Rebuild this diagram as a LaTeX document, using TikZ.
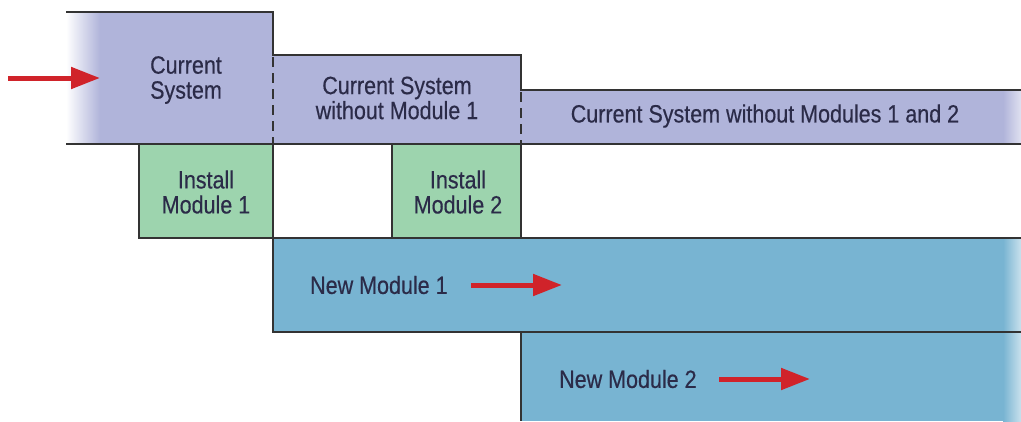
\documentclass[tikz,border=0pt]{standalone}
\usepackage{fontspec}
\setmainfont[FakeStretch=0.86,FakeBold=0.4]{Liberation Sans}
\usetikzlibrary{arrows.meta}
\definecolor{lav}{HTML}{B0B4DA}
\definecolor{grn}{HTML}{9DD4AE}
\definecolor{blu}{HTML}{78B4D2}
\definecolor{redarr}{HTML}{D0232A}
\definecolor{txt}{HTML}{2B2B48}
\definecolor{edge}{HTML}{333333}
\tikzset{
  x=1pt, y=-1pt,
  bord/.style={draw=edge, line width=1.5pt},
  dsh/.style={draw=edge, line width=1.5pt, dash pattern=on 10pt off 6pt, dash phase=-2pt},
  lbl/.style={text=txt, font=\fontsize{25}{25}\selectfont, align=center, inner sep=0pt},
  redarrow/.style={draw=redarr, line width=5pt, -{Triangle[length=29pt,width=21pt]}},
}
\begin{document}
\begin{tikzpicture}
\useasboundingbox (0,0) rectangle (1021,421);
% fills
\fill[lav] (100,12) rectangle (273,144);
\shade[left color=white, right color=lav] (66,12) rectangle (100,144);
\fill[lav] (273,55) rectangle (521,144);
\fill[lav] (521,90) rectangle (1003,144);
\shade[left color=lav, right color=lav!40] (1003,90) rectangle (1021,144);
\fill[grn] (139,144) rectangle (273,238);
\fill[grn] (392,144) rectangle (521,238);
\fill[blu] (273,238) rectangle (1003,332);
\shade[left color=blu, right color=blu!40] (1003,238) rectangle (1021,332);
\fill[blu] (521,332) rectangle (1003,421);
\shade[left color=blu, right color=blu!40] (1003,332) rectangle (1021,421);
% borders
\draw[bord] (66,12) -- (273,12) -- (273,55) -- (521,55) -- (521,90) -- (1021,90);
\draw[dsh] (273,55) -- (273,144);
\draw[dsh] (521,90) -- (521,144);
\draw[bord] (66,144) -- (1021,144);
\draw[bord] (139,144) rectangle (273,238);
\draw[bord] (392,144) rectangle (521,238);
\draw[bord] (273,144) -- (273,332) -- (1021,332);
\draw[bord] (273,238) -- (1021,238);
\draw[bord] (521,332) -- (521,421);
% labels
\node[lbl] (cs) at (186,80) {Current\\System};
\node[lbl] (cs1) at (397,98) {Current System\\without Module 1};
\node[lbl] (cs12) at (765,116) {Current System without Modules 1 and 2};
\node[lbl] (im1) at (206,192) {Install\\Module 1};
\node[lbl] (im2) at (458,192) {Install\\Module 2};
\node[lbl, anchor=west] (nm1) at (310,285) {New Module 1};
\node[lbl, anchor=west] (nm2) at (559,379) {New Module 2};
% arrows
\coordinate (a0) at (8,78);
\coordinate (a1) at (100,78);
\coordinate (b0) at (471,285);
\coordinate (b1) at (562,285);
\coordinate (c0) at (719,379);
\coordinate (c1) at (810,379);
\draw[redarrow] (a0) -- (a1);
\draw[redarrow] (b0) -- (b1);
\draw[redarrow] (c0) -- (c1);
\end{tikzpicture}
\end{document}
